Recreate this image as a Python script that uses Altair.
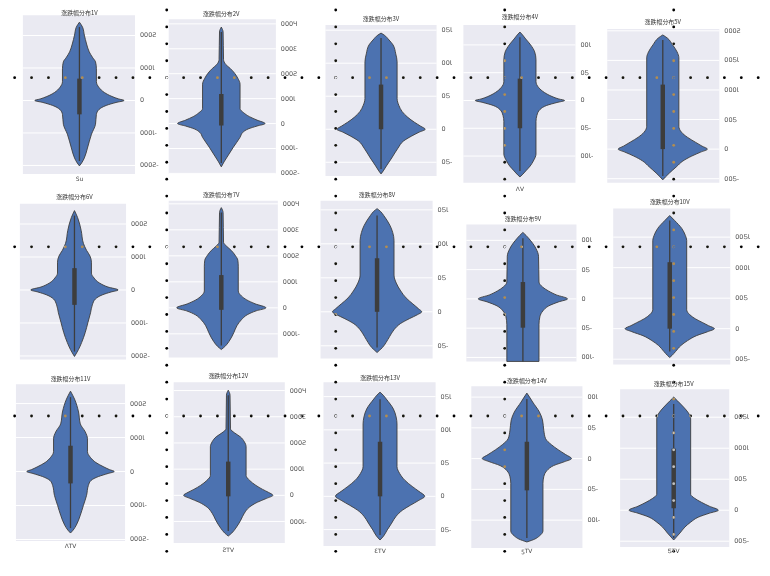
import altair as alt
import pandas as pd

W, H = 760, 558
OFF = 8  # page margin

# ---------------- data ----------------
titles = ["涨跌幅分布1V", "涨跌幅分布2V", "涨跌幅分布3V", "涨跌幅分布4V", "涨跌幅分布5V",
          "涨跌幅分布6V", "涨跌幅分布7V", "涨跌幅分布8V", "涨跌幅分布9V", "涨跌幅分布10V",
          "涨跌幅分布11V", "涨跌幅分布12V", "涨跌幅分布13V", "涨跌幅分布14V", "涨跌幅分布15V"]
xlabels = ["Su", "", "", "ΛV", "", "", "", "", "", "", "ΛTV", "ƧTV", "ƐTV", "ƽTV", "ƼTV"]

t_big = [2000, 1000, 0, -1000, -2000]
l_big = ["000Ƨ", "000Ɩ", "0", "000Ɩ-", "000Ƨ-"]
t_huge = [4000, 3000, 2000, 1000, 0, -1000, -2000]
l_huge = ["000Ч", "000Ɛ", "000Ƨ", "000Ɩ", "0", "000Ɩ-", "000Ƨ-"]
t_mid = [150, 100, 50, 0, -50]
l_mid = ["0ƼƖ", "00Ɩ", "0Ƽ", "0", "0Ƽ-"]
t_sym = [100, 50, 0, -50, -100]
l_sym = ["00Ɩ", "0Ƽ", "0", "0Ƽ-", "00Ɩ-"]
t_pos = [2000, 1500, 1000, 500, 0, -500]
l_pos = ["000Ƨ", "00ƼƖ", "000Ɩ", "00Ƽ", "0", "00Ƽ-"]
t_pos2 = [1500, 1000, 500, 0, -500]
l_pos2 = ["00ƼƖ", "000Ɩ", "00Ƽ", "0", "00Ƽ-"]

tick_values = [t_big, t_huge, t_mid, t_sym, t_pos,
               t_big, t_huge[:-1], t_mid, t_sym, t_pos2,
               t_big, t_huge[:-1], t_mid, t_sym, t_pos2]
tick_labels = [l_big, l_huge, l_mid, l_sym, l_pos,
               l_big, l_huge[:-1], l_mid, l_sym, l_pos2,
               l_big, l_huge[:-1], l_mid, l_sym, l_pos2]

violin_values = [
    [2410, 2257, 2013, 1739, 1495, 1312, 1190, 976, 580, 397, 244, 122, 46, 0, -61, -153, -275, -427, -732, -1037, -1464, -1769, -1922, -2013],
    [3871, 3674, 2568, 2370, 2212, 2015, 1817, 1580, 593, 435, 277, 138, 0, -99, -217, -356, -553, -948, -1343, -1541, -1738],
    [145.6, 142.6, 135.1, 127.6, 114.1, 102.1, 46.5, 36.0, 27.0, 18.0, 10.5, 4.5, 0, -4.5, -10.5, -18.0, -28.5, -43.5, -55.6, -63.1, -67.6],
    [123.2, 117.9, 110.7, 100.0, 87.5, 73.2, 33.9, 23.2, 14.3, 7.1, 2.7, 0, -3.6, -8.9, -16.1, -26.8, -37.5, -96.4, -108.9, -117.9, -126.8, -133.9, -137.5],
    [1930, 1879, 1762, 1644, 1544, 386, 285, 201, 117, 50, 0, -50, -117, -201, -302, -403, -470, -520],
    [2406, 2196, 1805, 1414, 1203, 1023, 842, 511, 361, 211, 90, 0, -60, -150, -271, -451, -692, -993, -1293, -1594, -1805, -2015],
    [3855, 3664, 2519, 2367, 2214, 2023, 1832, 1603, 649, 458, 305, 153, 0, -115, -267, -458, -687, -954, -1298, -1489, -1603],
    [151.8, 147.5, 141.6, 127.0, 116.8, 105.1, 54.0, 42.3, 30.7, 20.4, 11.7, 4.4, 0, -4.4, -10.2, -17.5, -26.3, -36.5, -45.3, -52.6, -56.9, -59.9],
    [113.6, 108.5, 103.4, 86.4, 72.9, 28.8, 20.3, 13.6, 6.8, 0, -5.1, -11.9, -20.3, -30.5, -44.1, -106.8],
    [1854, 1772, 1642, 1528, 1447, 309, 228, 163, 98, 49, 0, -49, -114, -195, -276, -374, -439, -472],
    [2365, 2132, 1752, 1402, 1168, 964, 584, 409, 263, 146, 58, 0, -58, -146, -263, -409, -701, -993, -1285, -1577, -1723, -1810],
    [4015, 3826, 2538, 2386, 2235, 2046, 1856, 758, 568, 379, 227, 114, 0, -114, -265, -455, -682, -947, -1250, -1439, -1553],
    [156.7, 152.2, 146.3, 131.3, 119.4, 109.0, 44.8, 34.3, 23.9, 14.9, 7.5, 0, -6.0, -13.4, -20.9, -29.9, -40.3, -50.7, -59.7, -65.7],
    [106.5, 100.0, 91.9, 75.8, 62.9, 45.2, 32.3, 22.6, 14.5, 6.5, 0, -4.8, -11.3, -19.4, -29.0, -40.3, -117.7, -125.8, -130.7, -135.5],
    [1824, 1760, 1664, 1568, 1472, 256, 192, 128, 64, 0, -48, -112, -192, -272, -368, -432, -480],
]
violin_widths = [
    [0, .07, .11, .16, .22, .3, .36, .38, .38, .44, .56, .73, .88, 1, .82, .6, .44, .38, .36, .27, .18, .11, .05, 0],
    [0, .04, .05, .1, .2, .3, .37, .42, .42, .5, .63, .8, .98, .8, .6, .48, .42, .27, .13, .06, 0],
    [0, .07, .18, .27, .33, .36, .36, .4, .47, .6, .75, .89, .99, .85, .68, .5, .38, .24, .12, .05, 0],
    [0, .06, .13, .24, .33, .36, .36, .42, .55, .72, .87, 1, .83, .6, .45, .38, .36, .36, .3, .23, .13, .05, 0],
    [0, .1, .22, .32, .36, .36, .42, .55, .73, .88, 1, .85, .65, .45, .3, .15, .06, 0],
    [0, .07, .15, .2, .27, .35, .38, .38, .44, .56, .75, .98, .82, .62, .47, .4, .36, .3, .24, .16, .09, 0],
    [0, .04, .05, .12, .22, .31, .37, .38, .38, .45, .57, .76, 1, .78, .58, .45, .35, .28, .17, .08, 0],
    [0, .08, .15, .29, .35, .38, .38, .43, .53, .65, .8, .93, 1, .9, .72, .52, .38, .28, .2, .12, .05, 0],
    [0, .07, .13, .29, .35, .36, .44, .57, .75, 1, .8, .58, .45, .38, .36, .36],
    [0, .11, .27, .35, .38, .38, .45, .57, .74, .87, 1, .85, .6, .4, .25, .13, .05, 0],
    [0, .09, .18, .22, .33, .38, .38, .45, .57, .73, .87, .98, .84, .63, .46, .4, .36, .29, .22, .13, .06, 0],
    [0, .04, .05, .14, .27, .36, .4, .4, .48, .62, .77, .9, 1, .86, .65, .47, .36, .28, .17, .08, 0],
    [0, .07, .14, .3, .36, .38, .38, .44, .56, .72, .87, 1, .87, .68, .5, .36, .26, .16, .08, 0],
    [0, .06, .13, .28, .35, .38, .42, .55, .7, .87, 1, .85, .6, .45, .38, .36, .36, .28, .18, 0],
    [0, .09, .22, .33, .38, .38, .47, .62, .8, 1, .8, .55, .38, .25, .14, .06, 0],
]
box_q3 = [672, 1186, 67.6, 39.3, 1091, 662, 1260, 78.8, 28.8, 1089, 759, 1288, 82.1, 27.4, 992]
box_q1 = [-427, -79, 0, -50, 0, -451, -76, 0, -49.2, 0, -350, -38, 0, -51.6, 32]
whisker_hi = [2260, 3676, 138, 114, 1845, 2256, 3664, 141.6, 103.4, 1772, 2190, 3826, 146, 96.8, 1712]
whisker_lo = [-1863, -1581, -60, -127, -453, -1865, -1450, -52.6, -106.8, -374, -1664, -1364, -58, -129, -448]

# ---------------- layout (page pixels) ----------------
layout = [
    dict(x0=23, x1=136, y0=13, y1=173, cx=80, ty=11, ly=178, dom=(-2260, 2626)),
    dict(x0=170, x1=278, y0=17, y1=173, cx=223, ty=12, ly=0, dom=(-2020, 4190)),
    dict(x0=328, x1=440, y0=23, y1=175, cx=384, ty=17, ly=0, dom=(-70.6, 157.7)),
    dict(x0=467, x1=580, y0=23, y1=182, cx=524, ty=15, ly=188, dom=(-148.2, 135.7)),
    dict(x0=612, x1=725, y0=27, y1=182, cx=668, ty=20, ly=0, dom=(-570, 2030)),
    dict(x0=20, x1=127, y0=203, y1=360, cx=75, ty=196, ly=0, dom=(-2105, 2617)),
    dict(x0=170, x1=280, y0=200, y1=358, cx=223, ty=194, ly=0, dom=(-1908, 4122)),
    dict(x0=323, x1=436, y0=200, y1=359, cx=380, ty=194, ly=0, dom=(-68.6, 163.5)),
    dict(x0=470, x1=581, y0=224, y1=362, cx=527, ty=218, ly=0, dom=(-106.8, 127.1)),
    dict(x0=618, x1=736, y0=208, y1=365, cx=675, ty=201, ly=0, dom=(-585, 1967)),
    dict(x0=16, x1=126, y0=385, y1=543, cx=71, ty=380, ly=548, dom=(-2044, 2569)),
    dict(x0=175, x1=287, y0=383, y1=545, cx=230, ty=377, ly=552, dom=(-1818, 4318)),
    dict(x0=326, x1=439, y0=383, y1=548, cx=383, ty=379, ly=553, dom=(-74.6, 171.6)),
    dict(x0=475, x1=587, y0=387, y1=550, cx=531, ty=382, ly=553, dom=(-145.2, 117.7)),
    dict(x0=625, x1=735, y0=390, y1=549, cx=679, ty=385, ly=553, dom=(-592, 1952)),
]
HALF = 45.0  # px of violin half width at density 1

BG = "#EAEAF2"
VIOLIN = "#4C72B0"
DARK = "#3d3d3d"


def panel(i):
    L = layout[i]
    lo, hi = L["dom"]
    # a "center" stack puts the violin's axis at max(width); shift the frame to match
    m = max(violin_widths[i])
    dl = (L["x0"] - L["cx"]) / HALF + m
    dr = (L["x1"] - L["cx"]) / HALF + m
    xs = alt.Scale(domain=[dl, dr], range=[L["x0"] - OFF, L["x1"] - OFF], nice=False, zero=False)
    ys = alt.Scale(domain=[lo, hi], range=[L["y1"] - OFF, L["y0"] - OFF], nice=False, zero=False)

    def X(f, **kw):
        return alt.X(f, scale=xs, axis=None, **kw)

    def Y(f):
        return alt.Y(f, scale=ys, axis=None)

    bg_df = pd.DataFrame({"a": [dl], "b": [dr], "lo": [lo], "hi": [hi]})
    bg = alt.Chart(bg_df).mark_rect(fill=BG).encode(
        x=X("a:Q"), x2="b:Q", y=Y("lo:Q"), y2="hi:Q")

    tdf = pd.DataFrame({"t": tick_values[i], "lab": tick_labels[i], "a": dl, "b": dr})
    grid = alt.Chart(tdf).mark_rule(color="white", strokeWidth=1).encode(
        x=X("a:Q"), x2="b:Q", y=Y("t:Q"))
    labels = alt.Chart(tdf).mark_text(
        align="left", baseline="middle", dx=5, fontSize=6.5, color="#555",
        font="DejaVu Sans").encode(x=X("b:Q"), y=Y("t:Q"), text="lab:N")

    vdf = pd.DataFrame({"v": violin_values[i], "w": violin_widths[i]})
    vdf["full"] = 2 * vdf["w"]
    violin = alt.Chart(vdf).mark_area(
        fill=VIOLIN, stroke=DARK, strokeWidth=0.9, interpolate="monotone",
        orient="horizontal").encode(
        x=X("full:Q", stack="center"), y=Y("v:Q"))

    wdf = pd.DataFrame({"c": [m], "lo": [whisker_lo[i]], "hi": [whisker_hi[i]],
                        "q1": [box_q1[i]], "q3": [box_q3[i]]})
    whisker = alt.Chart(wdf).mark_rule(color=DARK, strokeWidth=1.3).encode(
        x=X("c:Q"), y=Y("lo:Q"), y2="hi:Q")
    box = alt.Chart(wdf).mark_rule(color=DARK, strokeWidth=4.5).encode(
        x=X("c:Q"), y=Y("q1:Q"), y2="q3:Q")

    ttl_df = pd.DataFrame({"c": [m], "hi": [hi], "lo": [lo],
                           "title": [titles[i]], "xl": [xlabels[i]]})
    title = alt.Chart(ttl_df).mark_text(
        baseline="middle", align="center", fontSize=6, color="#333",
        font="Noto Sans CJK SC", dy=L["ty"] - L["y0"]).encode(
        x=X("c:Q"), y=Y("hi:Q"), text="title:N")
    layers = [bg, grid, violin, whisker, box, labels, title]
    if xlabels[i]:
        xlab = alt.Chart(ttl_df).mark_text(
            baseline="middle", align="center", fontSize=6, color="#444",
            font="DejaVu Sans", dy=L["ly"] - L["y1"]).encode(
            x=X("c:Q"), y=Y("lo:Q"), text="xl:N")
        layers.append(xlab)
    return alt.layer(*layers)


# ---------------- dotted overlay lattice ----------------
line_cols = [0, 10, 20, 30]     # vertical dotted lines (lattice units)
line_rows = [0, 10, 20]         # horizontal dotted lines
dot_x_steps = list(range(-9, 36))
dot_y_steps = list(range(-4, 30))
dots = ([{"gx": k, "gy": r} for r in line_rows for k in dot_x_steps] +
        [{"gx": c, "gy": k} for c in line_cols for k in dot_y_steps])
dots_df = pd.DataFrame(dots)
dot_layer = alt.Chart(dots_df).mark_circle(
    size=8, color="white", opacity=1, blend="difference").encode(
    x=alt.X("gx:Q", scale=alt.Scale(domain=[0, 30], range=[168 - OFF, 679 - OFF], nice=False, zero=False), axis=None),
    y=alt.Y("gy:Q", scale=alt.Scale(domain=[0, 20], range=[76 - OFF, 417 - OFF], nice=False, zero=False), axis=None),
)

chart = alt.layer(*[panel(i) for i in range(15)], dot_layer).resolve_scale(
    x="independent", y="independent"
).properties(
    width=W, height=H, autosize="none", padding=0, background="white"
).configure_view(stroke=None)

chart.save("out.html", embed_options={"renderer": "svg", "actions": False})
